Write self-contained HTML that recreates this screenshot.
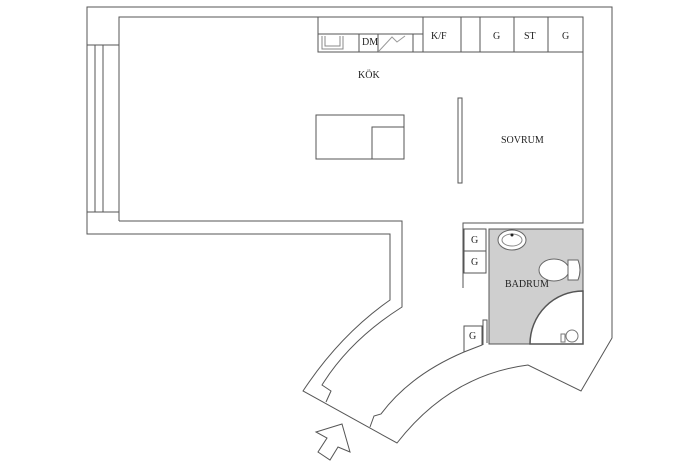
<!DOCTYPE html>
<html><head><meta charset="utf-8"><style>
html,body{margin:0;padding:0;background:#fff;}
svg{display:block;}
text{font-family:"Liberation Serif",serif;font-size:10px;fill:#222;}
</style></head><body>
<svg width="700" height="467" viewBox="0 0 700 467" xmlns="http://www.w3.org/2000/svg">
<g fill="none" stroke="#555" stroke-width="1">
<!-- outer wall -->
<path d="M87,234 L87,7 L612,7 L612,338 L581,391 L528,365 Q450,375 397,443 L303,391 Q340,335 390,300 L390,234 Z"/>
<!-- inner kitchen/sovrum -->
<path d="M119,221 L119,17 L583,17 L583,223 L463,223 L463,288"/>
<path d="M119,221 L402,221 L402,307 Q350,340 322,385 L331,391 L326,402"/>
<!-- window -->
<path d="M87,45 L119,45 M87,212 L119,212 M95,45 L95,212 M103,45 L103,212"/>
<!-- entrance jamb & corridor inner right -->
<path d="M370,427 L374,416 L381,414 Q410,375 464,352 L482,345 L482,326 L464,326 L464,352"/>
<path d="M483,345 L483,320 L487,320 L487,343"/>
<!-- G boxes -->
<rect x="464" y="229" width="22" height="22"/>
<rect x="464" y="251" width="22" height="22"/>
<!-- counter -->
<path d="M318,17 L318,52 L583,52 M318,34 L423,34 M359,34 L359,52 M378,34 L378,52 M413,34 L413,52 M423,17 L423,52 M461,17 L461,52 M480,17 L480,52 M514,17 L514,52 M548,17 L548,52"/>
<path d="M322,36 L322,49 L343,49 L343,36 M325,36 L325,46 L340,46 L340,36" stroke="#888"/>
<path d="M379,51 L392,37 L397,42 L405,36" stroke="#999"/>
<!-- island -->
<rect x="316" y="115" width="88" height="44"/>
<path d="M372,159 L372,127 L404,127"/>
<!-- divider -->
<rect x="458" y="98" width="4" height="85"/>
</g>
<!-- bathroom -->
<rect x="489" y="229" width="94" height="115" fill="#cfcfcf" stroke="#555"/>
<path d="M530,344 A53,53 0 0 1 583,291 L583,344 Z" fill="#fff" stroke="#555" stroke-width="1.5"/>
<ellipse cx="512" cy="240" rx="14" ry="10" fill="#fff" stroke="#666"/>
<ellipse cx="512" cy="240" rx="10" ry="6" fill="#fff" stroke="#888"/>
<circle cx="512" cy="235" r="1.5" fill="#222"/>
<ellipse cx="554" cy="270" rx="15" ry="11" fill="#fff" stroke="#666"/>
<path d="M568,260 L578,260 Q582,270 578,280 L568,280 Z" fill="#fff" stroke="#666"/>
<circle cx="572" cy="336" r="6" fill="#fff" stroke="#777"/>
<rect x="561" y="334" width="4" height="8" fill="#fff" stroke="#777"/>
<!-- arrow -->
<path d="M342,424 L316,432 L327,438 L318,452 L330,460 L338,447 L350,452 Z" fill="#fff" stroke="#555"/>
<!-- labels -->
<text x="358" y="78">KÖK</text>
<text x="362" y="45" font-size="9">DM</text>
<text x="431" y="39" font-size="9">K/F</text>
<text x="493" y="39" font-size="9">G</text>
<text x="524" y="39" font-size="9">ST</text>
<text x="562" y="39" font-size="9">G</text>
<text x="501" y="143">SOVRUM</text>
<text x="505" y="287">BADRUM</text>
<text x="471" y="243" font-size="9">G</text>
<text x="471" y="265" font-size="9">G</text>
<text x="469" y="339" font-size="9">G</text>
</svg>
</body></html>
